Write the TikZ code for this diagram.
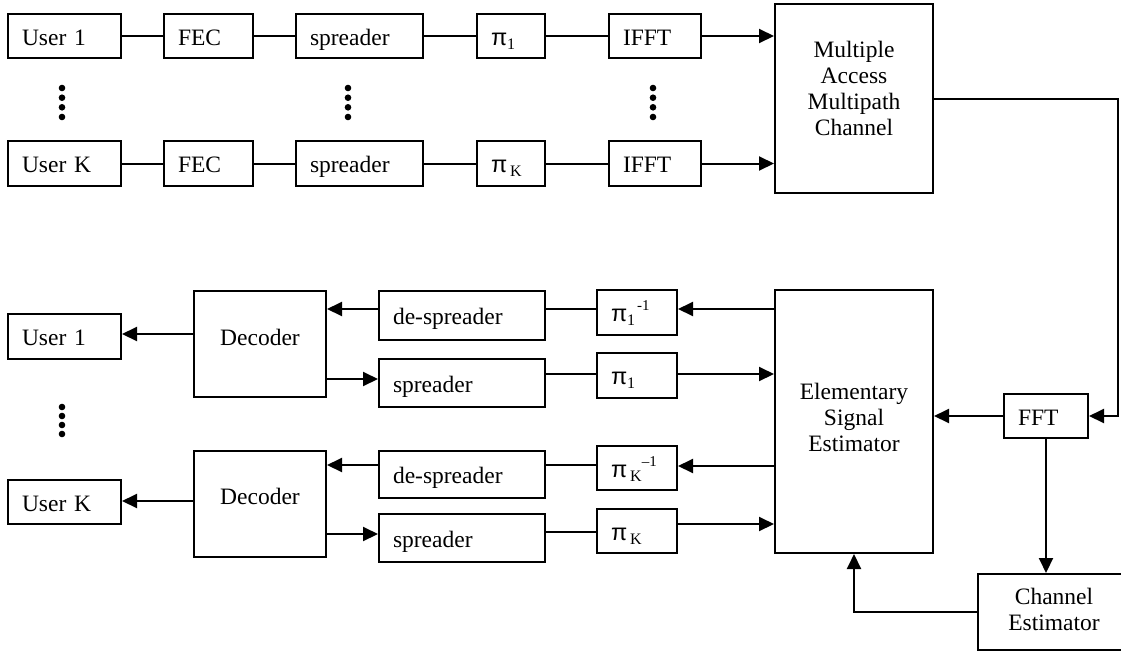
\documentclass[tikz,border=0pt]{standalone}
\usepackage{fontspec}
\setmainfont{Liberation Serif}
\newfontfamily\pifnt{Liberation Sans}
\usetikzlibrary{arrows.meta}
\newcommand{\pisym}{{\pifnt π}}
\newcommand{\lowsub}[1]{\raisebox{-4pt}{\fontsize{16}{16}\selectfont #1}}
\newcommand{\highsup}[1]{\raisebox{11pt}{\fontsize{15}{15}\selectfont #1}}
\begin{document}
\begin{tikzpicture}[x=1pt,y=-1pt,
  every node/.style={font=\fontsize{23.5}{26}\selectfont},
  box/.style={draw, line width=2pt, inner ysep=0pt},
  lbox/.style 2 args={box, text height=18pt, text depth=0pt, inner xsep=14pt, text width=#1, align=left, minimum height=#2},
  cbox/.style 2 args={box, inner sep=0pt, minimum width=#1, minimum height=#2},
  wire/.style={line width=2pt},
  arr/.style={wire, -{Triangle[length=15pt,width=14pt]}},
  dot/.style={fill=black}
]
\useasboundingbox (0,0) rectangle (1121,651);
\clip (0,0) rectangle (1121,651);

% ---------- transmitter ----------
\node[lbox={85pt}{44pt}] (u1t) at (64.5,36) {User 1};
\node[lbox={61pt}{44pt}] (f1) at (208.5,36) {FEC};
\node[lbox={99pt}{44pt}] (s1t) at (359.5,36) {spreader};
\node[lbox={40pt}{44pt}] (p1t) at (511,36) {\pisym\lowsub{1}};
\node[lbox={64pt}{44pt}] (i1) at (655,36) {IFFT};

\node[lbox={85pt}{45pt}] (ukt) at (64.5,163.5) {User K};
\node[lbox={61pt}{45pt}] (fk) at (208.5,163.5) {FEC};
\node[lbox={99pt}{45pt}] (skt) at (359.5,163.5) {spreader};
\node[lbox={40pt}{45pt}] (pkt) at (511,163.5) {\pisym\lowsub{\hspace{3pt}K}};
\node[lbox={64pt}{45pt}] (ik) at (655,163.5) {IFFT};

\node[cbox={158pt}{189pt}] (mamc) at (854,98.5)
  {\raisebox{-36.5pt}[0pt][0pt]{\begin{tabular}[b]{@{}c@{}}Multiple\\Access\\Multipath\\Channel\end{tabular}}};

\draw[wire] (u1t) -- (f1) -- (s1t) -- (p1t) -- (i1);
\draw[wire] (ukt) -- (fk) -- (skt) -- (pkt) -- (ik);
\draw[arr] (i1) -- (i1 -| mamc.west);
\draw[arr] (ik) -- (ik -| mamc.west);

\foreach \xx in {62,348,653}{
  \foreach \yy in {88,97.7,107.3,117}{
    \fill[dot] (\xx,\yy) circle (3.3pt);
  }
}

% ---------- receiver ----------
\node[lbox={85pt}{45pt}] (u1b) at (64.5,336.5) {User 1};
\node[cbox={132pt}{106pt}] (dec1) at (260,344) {\raisebox{-1pt}[0pt][0pt]{Decoder}};
\node[lbox={138pt}{49pt}] (ds1) at (462,315.5) {de-spreader};
\node[lbox={138pt}{48pt}] (sp1) at (462,383) {spreader};
\node[lbox={52pt}{45pt}] (pi1i) at (637,312.5) {\pisym\lowsub{1}\hspace{2pt}\highsup{-1}};
\node[lbox={52pt}{45pt}] (pi1) at (637,375.5) {\pisym\lowsub{1}};

\node[lbox={85pt}{44pt}] (ukb) at (64.5,502) {User K};
\node[cbox={132pt}{106pt}] (deck) at (260,504) {\raisebox{0pt}[0pt][0pt]{Decoder}};
\node[lbox={138pt}{47pt}] (dsk) at (462,474.5) {de-spreader};
\node[lbox={138pt}{48pt}] (spk) at (462,538) {spreader};
\node[lbox={52pt}{44pt}] (piki) at (637,468) {\pisym\lowsub{\hspace{3pt}K}\highsup{–1}};
\node[lbox={52pt}{44pt}] (pik) at (637,531) {\pisym\lowsub{\hspace{3pt}K}};

\node[cbox={158pt}{263pt}] (ese) at (854,421.5)
  {\raisebox{-29.5pt}[0pt][0pt]{\begin{tabular}[b]{@{}c@{}}Elementary\\Signal\\Estimator\end{tabular}}};
\node[lbox={56pt}{44pt}] (fft) at (1046,416) {FFT};
\node[cbox={152pt}{76pt}] (ce) at (1054,612)
  {\raisebox{-18pt}[0pt][0pt]{\begin{tabular}[b]{@{}c@{}}Channel\\Estimator\end{tabular}}};

\foreach \yy in {407,416,425,434}{
  \fill[dot] (62,\yy) circle (3.3pt);
}

% channel to FFT
\coordinate (rt) at (1118,99);
\draw[arr] (mamc.east |- rt) -- (rt) |- (fft.east);
\draw[arr] (fft.west) -- (ese.east |- fft.west);
\draw[arr] (fft.south) -- (fft.south |- ce.north);
\draw[arr] (ce.west) -| (ese.south);

% user 1 branch
\draw[wire] (ds1.east |- 0,309) -- (pi1i.west |- 0,309);
\draw[arr] (ese.west |- 0,309) -- (pi1i.east |- 0,309);
\draw[wire] (sp1.east |- 0,374) -- (pi1.west |- 0,374);
\draw[arr] (pi1.east |- 0,374) -- (ese.west |- 0,374);
\draw[arr] (ds1.west |- 0,309) -- (dec1.east |- 0,309);
\draw[arr] (dec1.east |- 0,379) -- (sp1.west |- 0,379);
\draw[arr] (dec1.west |- 0,334) -- (u1b.east |- 0,334);

% user K branch
\draw[wire] (dsk.east |- 0,465) -- (piki.west |- 0,465);
\draw[arr] (ese.west |- 0,466) -- (piki.east |- 0,466);
\draw[wire] (spk.east |- 0,532) -- (pik.west |- 0,532);
\draw[arr] (pik.east |- 0,524) -- (ese.west |- 0,524);
\draw[arr] (dsk.west |- 0,465) -- (deck.east |- 0,465);
\draw[arr] (deck.east |- 0,534) -- (spk.west |- 0,534);
\draw[arr] (deck.west |- 0,501) -- (ukb.east |- 0,501);
\end{tikzpicture}
\end{document}
